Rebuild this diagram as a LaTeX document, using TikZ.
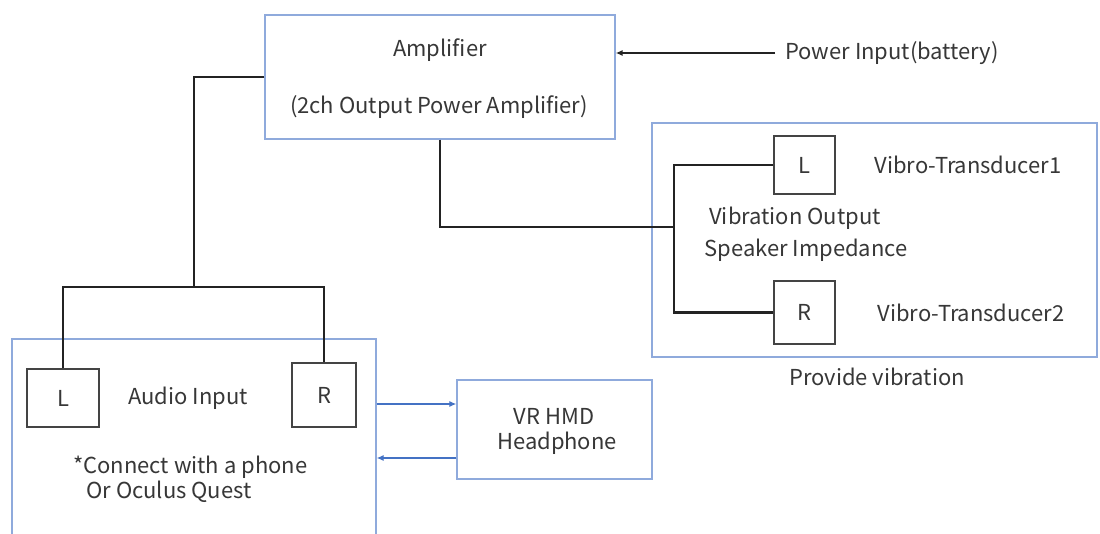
\documentclass[tikz,border=0pt]{standalone}
\usepackage{fontspec}
\setmainfont{Noto Sans CJK JP}
\usetikzlibrary{arrows.meta}
\definecolor{boxblue}{RGB}{143,170,220}
\definecolor{arrowblue}{RGB}{68,114,196}
\definecolor{textgray}{RGB}{55,55,55}
\definecolor{wirecol}{RGB}{35,35,35}
\begin{document}
\begin{tikzpicture}[x=0.02cm,y=-0.02cm,
  txt/.style={text=textgray,font=\fontsize{12.5}{14}\selectfont,inner sep=0pt},
  bbox/.style={draw=boxblue,line width=0.8pt,inner sep=0pt,fill=white},
  sbox/.style={draw=wirecol!85,line width=0.8pt,inner sep=0pt,fill=white,text=textgray,font=\fontsize{12.5}{14}\selectfont},
  wire/.style={draw=wirecol,line width=1.2pt},
  barrow/.style={draw=arrowblue,line width=0.7pt,-{Latex[length=4pt,width=3.5pt]}},
  parrow/.style={draw=wirecol,line width=0.9pt,-{Latex[length=4pt,width=3.5pt]}}]
\useasboundingbox (0,0) rectangle (1100,534);
\clip (0,0) rectangle (1100,534);
\fill[white] (0,0) rectangle (1100,534);

% amplifier
\node[bbox,minimum width=7cm,minimum height=2.48cm] (amp) at (440,77) {};
\node[txt] (ampt) at (440,50) {Amplifier};
\node[txt] (ampd) at (439,107) {(2ch Output Power Amplifier)};
\node[txt,anchor=west] (pw) at (785,53) {Power Input(battery)};

% vibration
\node[bbox,minimum width=8.9cm,minimum height=4.68cm] (vib) at (874.5,240) {};
\node[sbox,minimum width=1.22cm,minimum height=1.16cm] (vL) at (804.5,165) {L};
\node[sbox,minimum width=1.22cm,minimum height=1.26cm] (vR) at (804.5,312.5) {R};
\node[txt] (vt1) at (968,165) {Vibro-Transducer1};
\node[txt] (vt2) at (971,313) {Vibro-Transducer2};
\node[txt] (vo) at (795,218) {Vibration Output};
\node[txt] (si) at (806,250) {Speaker Impedance};
\node[txt] (pv) at (877,377) {Provide vibration};
\coordinate (vj) at (674,227);

% audio input
\node[bbox,minimum width=7.28cm,minimum height=5cm] (audio) at (194,464) {};
\node[sbox,minimum width=1.44cm,minimum height=1.16cm] (aL) at (63,398) {L};
\node[sbox,minimum width=1.28cm,minimum height=1.28cm] (aR) at (324,395) {R};
\node[txt] (ai) at (188,398) {Audio Input};
\node[txt,anchor=west] (c1) at (73,467) {*Connect with a phone};
\node[txt,anchor=west] (c2) at (86,492) {Or Oculus Quest};
\coordinate (j1) at (194,287);

% HMD
\node[bbox,minimum width=3.9cm,minimum height=1.98cm] (hmd) at (554.5,429.5) {};
\node[txt] (h1t) at (554,416) {VR HMD};
\node[txt] (h2t) at (557,443) {Headphone};

% wires
\draw[wire] (amp.west) -| (j1);
\draw[wire] (aL.north) |- (j1) -| (aR.north);
\draw[wire] (amp.south) |- (vj);
\draw[wire] (vL.west) -| (vj) |- (vR.west);
\draw[parrow] ([xshift=-0.2cm]pw.west) -- (pw.west -| amp.east);

\coordinate (h1) at ([yshift=0.51cm]hmd.west);
\coordinate (h2) at ([yshift=-0.57cm]hmd.west);
\draw[barrow] (h1 -| audio.east) -- (h1);
\draw[barrow] (h2) -- (h2 -| audio.east);
\end{tikzpicture}
\end{document}
